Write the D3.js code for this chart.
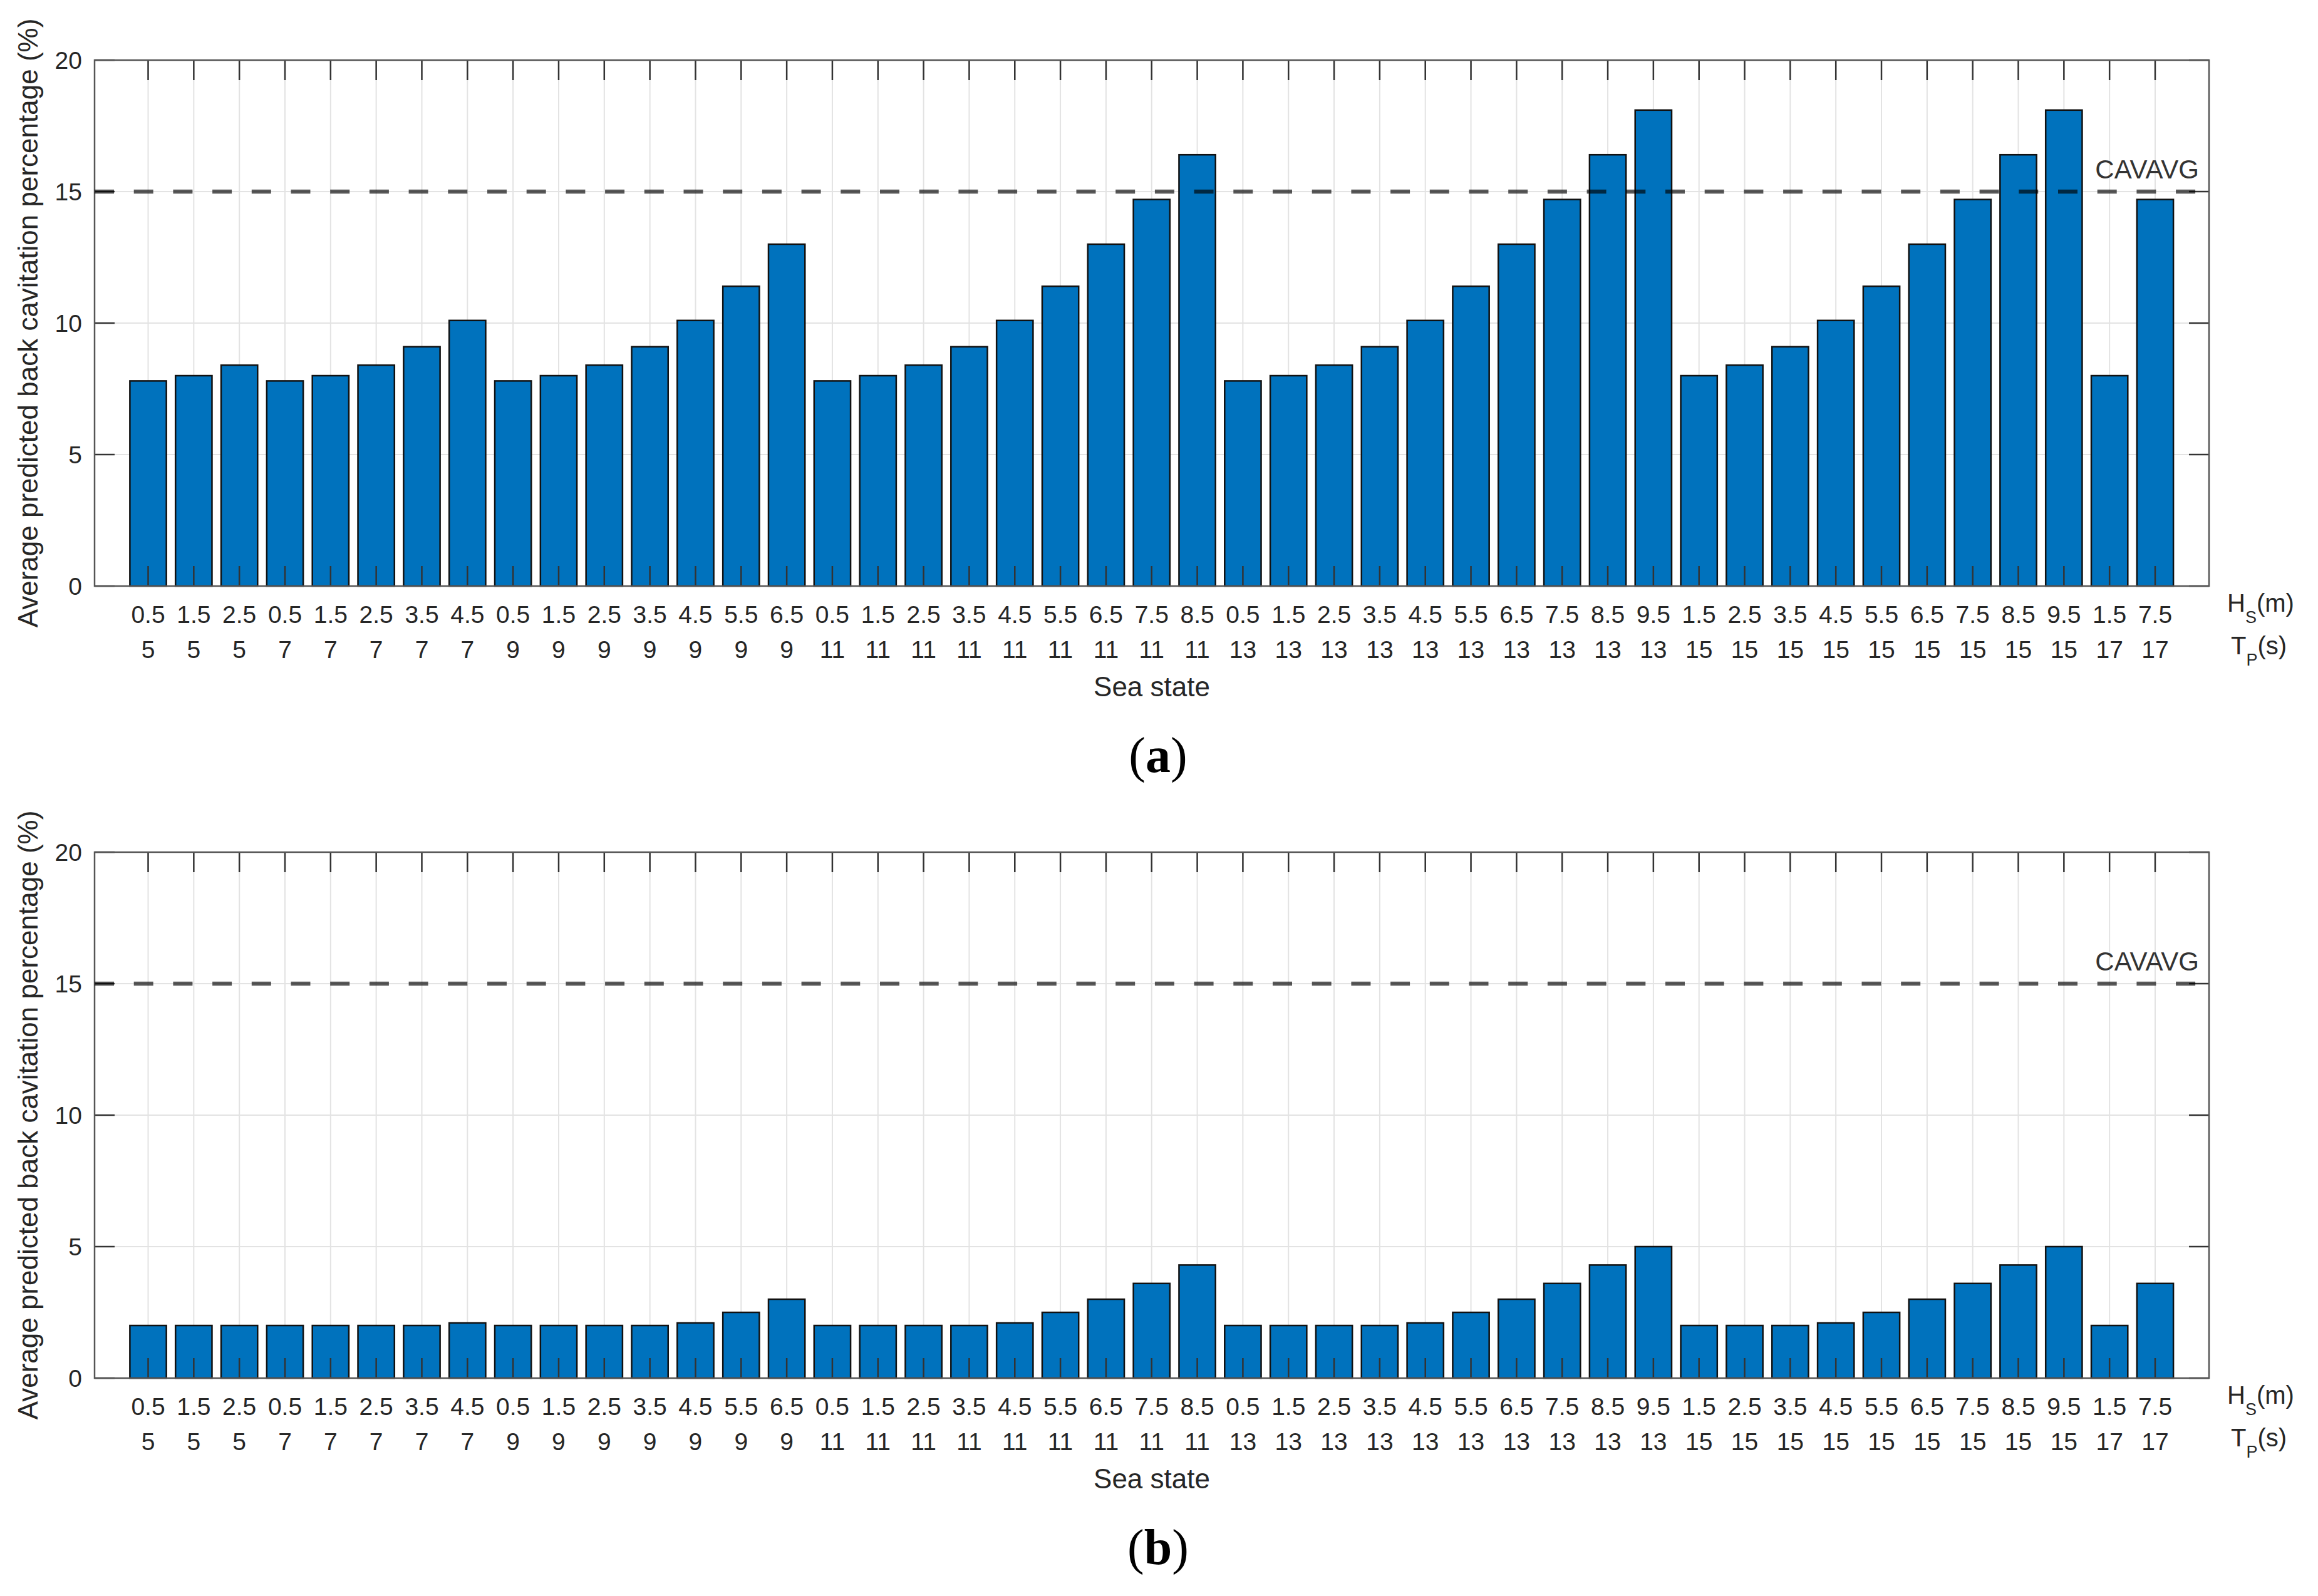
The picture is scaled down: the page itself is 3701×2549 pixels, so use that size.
<!DOCTYPE html>
<html>
<head>
<meta charset="utf-8">
<script src="https://cdn.jsdelivr.net/npm/d3@7"></script>
<style>
  html, body { margin: 0; padding: 0; background: #ffffff; }
  svg { display: block; }
</style>
</head>
<body>
<script>
// ---------- data ----------
const hsLabels = ["0.5","1.5","2.5",
  "0.5","1.5","2.5","3.5","4.5",
  "0.5","1.5","2.5","3.5","4.5","5.5","6.5",
  "0.5","1.5","2.5","3.5","4.5","5.5","6.5","7.5","8.5",
  "0.5","1.5","2.5","3.5","4.5","5.5","6.5","7.5","8.5","9.5",
  "1.5","2.5","3.5","4.5","5.5","6.5","7.5","8.5","9.5",
  "1.5","7.5"];
const tpLabels = ["5","5","5",
  "7","7","7","7","7",
  "9","9","9","9","9","9","9",
  "11","11","11","11","11","11","11","11","11",
  "13","13","13","13","13","13","13","13","13","13",
  "15","15","15","15","15","15","15","15","15",
  "17","17"];
const cavA = [7.8,8.0,8.4,
  7.8,8.0,8.4,9.1,10.1,
  7.8,8.0,8.4,9.1,10.1,11.4,13.0,
  7.8,8.0,8.4,9.1,10.1,11.4,13.0,14.7,16.4,
  7.8,8.0,8.4,9.1,10.1,11.4,13.0,14.7,16.4,18.1,
  8.0,8.4,9.1,10.1,11.4,13.0,14.7,16.4,18.1,
  8.0,14.7];
const cavB = [2.0,2.0,2.0,
  2.0,2.0,2.0,2.0,2.1,
  2.0,2.0,2.0,2.0,2.1,2.5,3.0,
  2.0,2.0,2.0,2.0,2.1,2.5,3.0,3.6,4.3,
  2.0,2.0,2.0,2.0,2.1,2.5,3.0,3.6,4.3,5.0,
  2.0,2.0,2.0,2.1,2.5,3.0,3.6,4.3,5.0,
  2.0,3.6];
const yTicks = [0, 5, 10, 15, 20];
const cavAvg = 15;
const panelLabels = ["a", "b"];

// ---------- layout ----------
const W = 3701, H = 2549;
const axLeft = 151, axRight = 3527;
const panelTops = [96, 1361];
const panelH = 840;
const font = "'Liberation Sans', Arial, Helvetica, sans-serif";
const textCol = "#262626";

const svg = d3.select("body").append("svg")
  .attr("width", W).attr("height", H)
  .attr("viewBox", `0 0 ${W} ${H}`);
svg.append("rect").attr("width", W).attr("height", H).attr("fill", "#fff");

const idx = d3.range(hsLabels.length);
const x = d3.scaleBand().domain(idx).range([200.1, 3477.4])
  .paddingInner(0.2).paddingOuter(0.1);
const cx = i => x(i) + x.bandwidth() / 2;

[cavA, cavB].forEach((vals, p) => {
  const top = panelTops[p];
  const bottom = top + panelH;
  const y = d3.scaleLinear().domain([0, 20]).range([bottom, top]);
  const g = svg.append("g");

  // grid
  g.selectAll("line.vg").data(idx).join("line")
    .attr("x1", cx).attr("x2", cx).attr("y1", top).attr("y2", bottom)
    .attr("stroke", "#e3e3e3").attr("stroke-width", 2);
  g.selectAll("line.hg").data(yTicks).join("line")
    .attr("x1", axLeft).attr("x2", axRight)
    .attr("y1", d => y(d)).attr("y2", d => y(d))
    .attr("stroke", "#e3e3e3").attr("stroke-width", 2);

  // bars
  g.selectAll("rect.bar").data(vals).join("rect")
    .attr("x", (d, i) => x(i)).attr("width", x.bandwidth())
    .attr("y", d => y(d)).attr("height", d => y(0) - y(d))
    .attr("fill", "#0072BD").attr("stroke", "#111").attr("stroke-width", 2.5);

  // ticks (inward)
  const tl = 32;
  g.selectAll("line.bt").data(idx).join("line")
    .attr("x1", cx).attr("x2", cx).attr("y1", bottom).attr("y2", bottom - tl)
    .attr("stroke", "#333").attr("stroke-width", 2.5);
  g.selectAll("line.tt").data(idx).join("line")
    .attr("x1", cx).attr("x2", cx).attr("y1", top).attr("y2", top + tl)
    .attr("stroke", "#333").attr("stroke-width", 2.5);
  g.selectAll("line.lt").data(yTicks).join("line")
    .attr("x1", axLeft).attr("x2", axLeft + tl)
    .attr("y1", d => y(d)).attr("y2", d => y(d))
    .attr("stroke", "#333").attr("stroke-width", 2.5);
  g.selectAll("line.rt").data(yTicks).join("line")
    .attr("x1", axRight).attr("x2", axRight - tl)
    .attr("y1", d => y(d)).attr("y2", d => y(d))
    .attr("stroke", "#333").attr("stroke-width", 2.5);

  // box
  g.append("rect").attr("x", axLeft).attr("y", top)
    .attr("width", axRight - axLeft).attr("height", panelH)
    .attr("fill", "none").attr("stroke", "#555").attr("stroke-width", 2.5);

  // dashed CAVAVG line
  g.append("line")
    .attr("x1", axLeft).attr("x2", 3506)
    .attr("y1", y(cavAvg)).attr("y2", y(cavAvg))
    .attr("stroke", "#000").attr("stroke-opacity", 0.65)
    .attr("stroke-width", 6.5).attr("stroke-dasharray", "31,31.7");
  g.append("text").text("CAVAVG")
    .attr("x", 3511).attr("y", y(cavAvg) - 21)
    .attr("text-anchor", "end").attr("font-family", font)
    .attr("font-size", 42).attr("fill", "#333");

  // y tick labels
  g.selectAll("text.yl").data(yTicks).join("text")
    .attr("x", 131).attr("y", d => y(d) + 14)
    .attr("text-anchor", "end").attr("font-family", font)
    .attr("font-size", 39).attr("fill", textCol).text(d => d);

  // x tick labels (two rows)
  g.selectAll("text.xh").data(hsLabels).join("text")
    .attr("x", (d, i) => cx(i)).attr("y", bottom + 59)
    .attr("text-anchor", "middle").attr("font-family", font)
    .attr("font-size", 39).attr("fill", textCol).text(d => d);
  g.selectAll("text.xt").data(tpLabels).join("text")
    .attr("x", (d, i) => cx(i)).attr("y", bottom + 115)
    .attr("text-anchor", "middle").attr("font-family", font)
    .attr("font-size", 39).attr("fill", textCol).text(d => d);

  // Hs(m) / Tp(s)
  const hs = g.append("text").attr("x", 3556).attr("y", bottom + 41)
    .attr("font-family", font).attr("font-size", 40).attr("fill", textCol);
  hs.append("tspan").text("H");
  hs.append("tspan").attr("dy", 18).attr("font-size", 27).text("S");
  hs.append("tspan").attr("dy", -18).text("(m)");
  const tp = g.append("text").attr("x", 3562).attr("y", bottom + 109)
    .attr("font-family", font).attr("font-size", 40).attr("fill", textCol);
  tp.append("tspan").text("T");
  tp.append("tspan").attr("dy", 18).attr("font-size", 27).text("P");
  tp.append("tspan").attr("dy", -18).text("(s)");

  // axis titles
  g.append("text").text("Sea state")
    .attr("x", (axLeft + axRight) / 2).attr("y", bottom + 176)
    .attr("text-anchor", "middle").attr("font-family", font)
    .attr("font-size", 44).attr("fill", textCol);
  g.append("text").text("Average predicted back cavitation percentage (%)")
    .attr("transform", `translate(60,${(top + bottom) / 2}) rotate(-90)`)
    .attr("text-anchor", "middle").attr("font-family", font)
    .attr("font-size", 44).attr("fill", textCol);

  // panel label
  const pl = g.append("text").attr("x", 1849).attr("y", bottom + 297)
    .attr("text-anchor", "middle")
    .attr("font-family", "'Liberation Serif', 'DejaVu Serif', serif")
    .attr("font-size", 80).attr("fill", "#000");
  pl.append("tspan").text("(");
  pl.append("tspan").attr("font-weight", "bold").text(panelLabels[p]);
  pl.append("tspan").text(")");
});
</script>
</body>
</html>
